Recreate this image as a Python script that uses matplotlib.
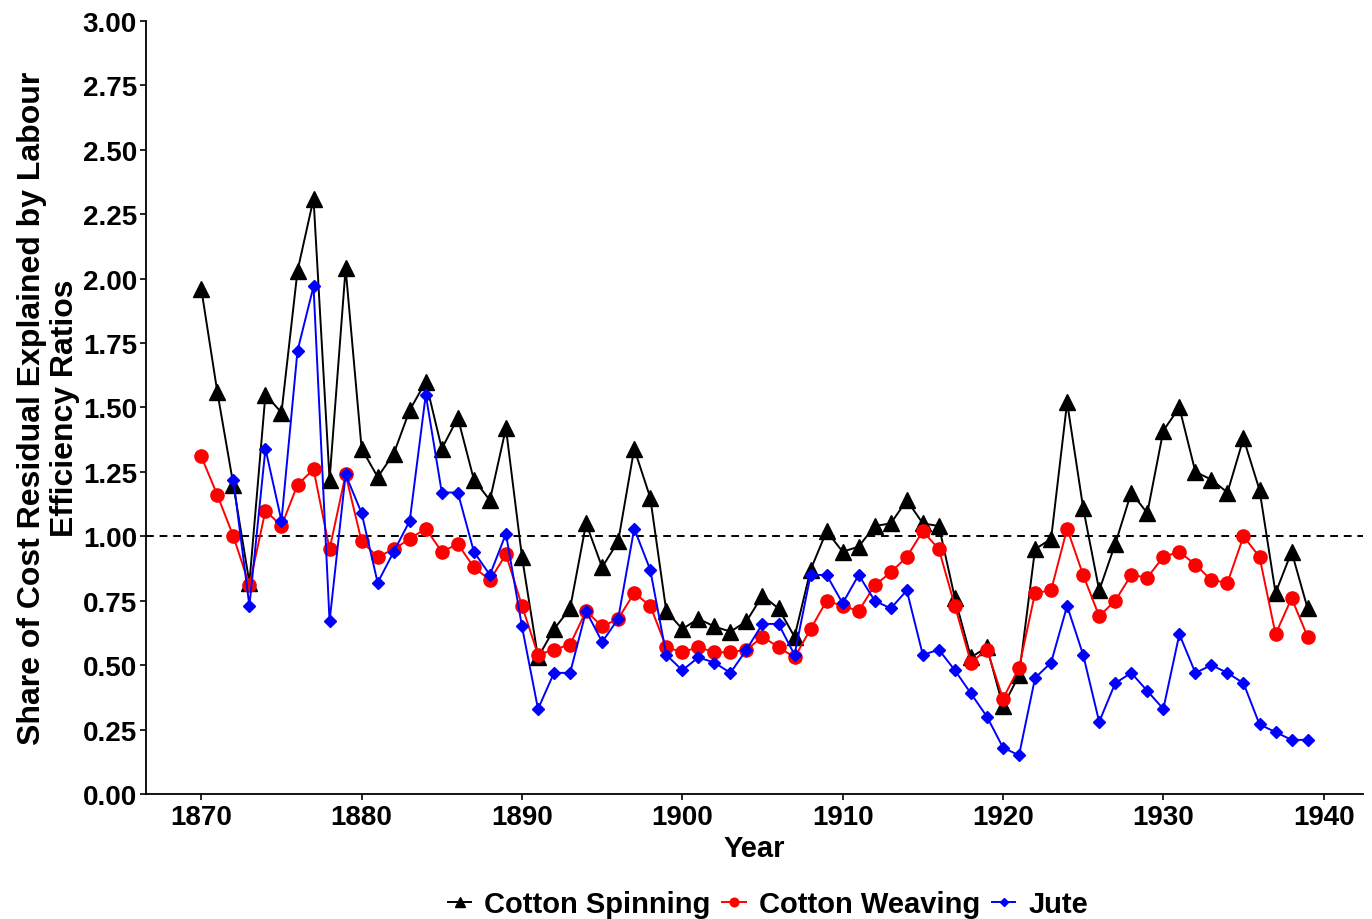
import matplotlib
matplotlib.use("Agg")
import matplotlib.pyplot as plt
from matplotlib.ticker import FormatStrFormatter

plt.rcParams['font.family'] = ['Liberation Sans', 'DejaVu Sans']
plt.rcParams['font.weight'] = 'bold'

years = list(range(1870, 1940))

cotton_spinning = [
    1.96, 1.56, 1.20, 0.82, 1.55, 1.48, 2.03, 2.31, 1.22, 2.04,
    1.34, 1.23, 1.32, 1.49, 1.60, 1.34, 1.46, 1.22, 1.14, 1.42,
    0.92, 0.53, 0.64, 0.72, 1.05, 0.88, 0.98, 1.34, 1.15, 0.71,
    0.64, 0.68, 0.65, 0.63, 0.67, 0.77, 0.72, 0.61, 0.87, 1.02,
    0.94, 0.96, 1.04, 1.05, 1.14, 1.05, 1.04, 0.76, 0.53, 0.57,
    0.34, 0.46, 0.95, 0.99, 1.52, 1.11, 0.79, 0.97, 1.17, 1.09,
    1.41, 1.50, 1.25, 1.22, 1.17, 1.38, 1.18, 0.78, 0.94, 0.72,
]

cotton_weaving = [
    1.31, 1.16, 1.00, 0.81, 1.10, 1.04, 1.20, 1.26, 0.95, 1.24,
    0.98, 0.92, 0.95, 0.99, 1.03, 0.94, 0.97, 0.88, 0.83, 0.93,
    0.73, 0.54, 0.56, 0.58, 0.71, 0.65, 0.68, 0.78, 0.73, 0.57,
    0.55, 0.57, 0.55, 0.55, 0.56, 0.61, 0.57, 0.53, 0.64, 0.75,
    0.73, 0.71, 0.81, 0.86, 0.92, 1.02, 0.95, 0.73, 0.51, 0.56,
    0.37, 0.49, 0.78, 0.79, 1.03, 0.85, 0.69, 0.75, 0.85, 0.84,
    0.92, 0.94, 0.89, 0.83, 0.82, 1.00, 0.92, 0.62, 0.76, 0.61,
]

jute_years = list(range(1872, 1940))
jute = [
    1.22, 0.73, 1.34, 1.06, 1.72, 1.97, 0.67, 1.24,
    1.09, 0.82, 0.94, 1.06, 1.55, 1.17, 1.17, 0.94, 0.85, 1.01,
    0.65, 0.33, 0.47, 0.47, 0.71, 0.59, 0.68, 1.03, 0.87, 0.54,
    0.48, 0.53, 0.51, 0.47, 0.56, 0.66, 0.66, 0.54, 0.85, 0.85,
    0.74, 0.85, 0.75, 0.72, 0.79, 0.54, 0.56, 0.48, 0.39, 0.30,
    0.18, 0.15, 0.45, 0.51, 0.73, 0.54, 0.28, 0.43, 0.47, 0.40,
    0.33, 0.62, 0.47, 0.50, 0.47, 0.43, 0.27, 0.24, 0.21, 0.21,
]

x_ticks = [1870, 1880, 1890, 1900, 1910, 1920, 1930, 1940]
y_ticks = [0.0, 0.25, 0.5, 0.75, 1.0, 1.25, 1.5, 1.75, 2.0, 2.25, 2.5, 2.75, 3.0]

fig = plt.figure(figsize=(13.72, 9.2), dpi=100)
ax = fig.add_axes([0.1064, 0.1359, 0.8870, 0.8402])

ax.axhline(1.0, color='black', linestyle=(0, (4, 3)), linewidth=1.4, zorder=1)

ax.plot(years, cotton_spinning, color='black', marker='^', markersize=12,
        linewidth=1.4, label='Cotton Spinning', zorder=3)
ax.plot(years, cotton_weaving, color='#ff0000', marker='o', markersize=9.5,
        linewidth=1.4, label='Cotton Weaving', zorder=4)
ax.plot(jute_years, jute, color='#0000ff', marker='D', markersize=6.5,
        linewidth=1.4, label='Jute', zorder=5)

ax.set_xlim(1866.55, 1942.45)
ax.set_ylim(0, 3.0)
ax.set_xticks(x_ticks)
ax.set_yticks(y_ticks)
ax.yaxis.set_major_formatter(FormatStrFormatter('%.2f'))

for side in ('top', 'right'):
    ax.spines[side].set_visible(False)
for side in ('left', 'bottom'):
    ax.spines[side].set_linewidth(1.3)
    ax.spines[side].set_color('black')

ax.tick_params(axis='both', direction='out', length=4, width=1.2,
               colors='black', labelsize=20)
ax.tick_params(axis='y', pad=2.5)
ax.tick_params(axis='x', pad=3)
for lbl in ax.get_xticklabels() + ax.get_yticklabels():
    lbl.set_fontweight('bold')

ax.set_xlabel('Year', fontsize=21, fontweight='bold', labelpad=3)
ax.set_ylabel('Share of Cost Residual Explained by Labour\nEfficiency Ratios',
              fontsize=23, fontweight='bold', labelpad=2, linespacing=1.12)

leg = fig.legend(loc='center', bbox_to_anchor=(768 / 1372, 1 - 905 / 920),
                 ncol=3, frameon=False, handlelength=0.8,
                 handletextpad=0.45, columnspacing=0.4, markerscale=0.65,
                 prop={'weight': 'bold', 'size': 21})

fig.savefig('out.png', dpi=100, facecolor='white')
